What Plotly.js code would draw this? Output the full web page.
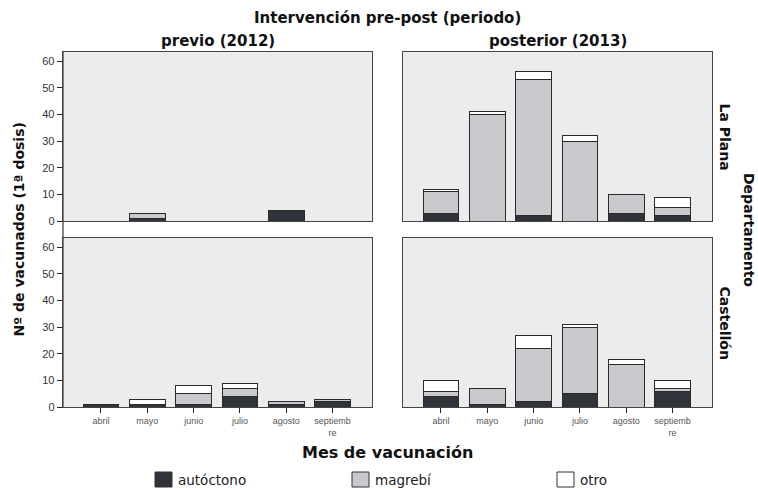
<!DOCTYPE html>
<html>
<head>
<meta charset="utf-8">
<script src="https://cdn.plot.ly/plotly-3.0.1.min.js"></script>
<style>html,body{margin:0;padding:0;background:#fff;}#chart{width:758px;height:488px;}</style>
</head>
<body>
<div id="chart"></div>
<script>
// ---- data ----
const months = ['abril','mayo','junio','julio','agosto','septiembre'];
const tickLabels = ['abril','mayo','junio','julio','agosto','septiemb<br>re'];
const seriesNames = ['autóctono','magrebí','otro'];
const periods = ['previo (2012)','posterior (2013)'];
const departments = ['La Plana','Castellón'];

const laPlana2012_aut  = [0,1,0,0,4,0];
const laPlana2012_mag  = [0,2,0,0,0,0];
const laPlana2012_otro = [0,0,0,0,0,0];
const laPlana2013_aut  = [3,0,2,0,3,2];
const laPlana2013_mag  = [8,40,51,30,7,3];
const laPlana2013_otro = [1,1,3,2,0,4];
const castellon2012_aut  = [1,1,1,4,1,2];
const castellon2012_mag  = [0,0,4,3,1,1];
const castellon2012_otro = [0,2,3,2,0,0];
const castellon2013_aut  = [4,1,2,5,0,6];
const castellon2013_mag  = [2,6,20,25,16,1];
const castellon2013_otro = [4,0,5,1,2,3];

const yTicks = [0,10,20,30,40,50,60];

// ---- build ----
const colors = ['#30343a','#c8c9cc','#ffffff'];
const panels = [
  {ax:'', vals:[laPlana2012_aut, laPlana2012_mag, laPlana2012_otro]},
  {ax:'2', vals:[laPlana2013_aut, laPlana2013_mag, laPlana2013_otro]},
  {ax:'3', vals:[castellon2012_aut, castellon2012_mag, castellon2012_otro]},
  {ax:'4', vals:[castellon2013_aut, castellon2013_mag, castellon2013_otro]}
];
const traces = [];
panels.forEach(p => {
  p.vals.forEach((v, i) => {
    traces.push({
      type:'bar', x: months, y: v, name: seriesNames[i],
      xaxis:'x'+p.ax, yaxis:'y'+p.ax, width:0.77,
      marker:{color:colors[i], line:{color:'#2a2a2a', width:1}},
      showlegend:false, hoverinfo:'x+y+name'
    });
  });
});

const L=63, R=712, T=52, B=407, W=R-L, H=B-T;
const px = v => (v-L)/W, py = v => (B-v)/H;
const xL = [0, px(372)], xR = [px(403), 1];
const yTop = [py(221), 1], yBot = [0, py(238)];
const xr = [-0.82, 5.85], yr = [0, 63.4];
const lineCol = '#444444';

function xa(domain, anchor, bottom){
  return {domain, anchor, range:xr, type:'category', categoryarray:months,
    showline:true, mirror:true, linecolor:lineCol, linewidth:1.3,
    showgrid:false, zeroline:false, fixedrange:true,
    ticks: bottom?'outside':'', ticklen:5, tickcolor:'#222', tickwidth:1,
    showticklabels: bottom, tickvals: months, ticktext: tickLabels,
    tickfont:{family:'Liberation Sans, Arial', size:9, color:'#555'}};
}
function ya(domain, anchor, left){
  return {domain, anchor, range:yr, showline:true, mirror:true, linecolor:lineCol, linewidth:1.3,
    showgrid:false, zeroline:false, fixedrange:true,
    ticks: left?'outside':'', ticklen:5, tickcolor:'#222', tickwidth:1,
    showticklabels:left, tickvals:yTicks,
    tickfont:{family:'Liberation Sans, Arial', size:11, color:'#333'}};
}

const bold = (s)=>({family:'DejaVu Sans', size:s, color:'#111', weight:'bold'});
const annotations = [
  {text:'<b>Intervención pre-post (periodo)</b>', xref:'paper', yref:'paper', x:0.5, y:py(18), showarrow:false, font:bold(15), xanchor:'center', yanchor:'middle'},
  {text:'<b>'+periods[0]+'</b>', xref:'paper', yref:'paper', x:(xL[0]+xL[1])/2, y:py(41), showarrow:false, font:bold(15), xanchor:'center', yanchor:'middle'},
  {text:'<b>'+periods[1]+'</b>', xref:'paper', yref:'paper', x:(xR[0]+xR[1])/2, y:py(41), showarrow:false, font:bold(15), xanchor:'center', yanchor:'middle'},
  {text:'<b>'+departments[0]+'</b>', xref:'paper', yref:'paper', x:px(725), y:(yTop[0]+yTop[1])/2, showarrow:false, font:bold(14), textangle:90, xanchor:'center', yanchor:'middle'},
  {text:'<b>'+departments[1]+'</b>', xref:'paper', yref:'paper', x:px(725), y:(yBot[0]+yBot[1])/2, showarrow:false, font:bold(14), textangle:90, xanchor:'center', yanchor:'middle'},
  {text:'<b>Departamento</b>', xref:'paper', yref:'paper', x:px(749), y:py(230), showarrow:false, font:bold(14), textangle:90, xanchor:'center', yanchor:'middle'},
  {text:'<b>Nº de vacunados (1ª dosis)</b>', xref:'paper', yref:'paper', x:px(18), y:0.5, showarrow:false, font:bold(14), textangle:-90, xanchor:'center', yanchor:'middle'},
  {text:'<b>Mes de vacunación</b>', xref:'paper', yref:'paper', x:0.5, y:py(452), showarrow:false, font:bold(16), xanchor:'center', yanchor:'middle'}
];
const shapes = [
  {type:'line', xref:'paper', yref:'paper', x0:0, x1:0, y0:0, y1:1, line:{color:lineCol, width:1.3}}
];
const legX = [155, 352, 557];
seriesNames.forEach((n,i)=>{
  shapes.push({type:'rect', xref:'paper', yref:'paper', x0:px(legX[i]), x1:px(legX[i]+17), y0:py(472), y1:py(487),
    fillcolor:colors[i], line:{color:'#333', width:1}});
  annotations.push({text:n, xref:'paper', yref:'paper', x:px(legX[i]+21), y:py(480), showarrow:false,
    xanchor:'left', yanchor:'middle', font:{family:'DejaVu Sans', size:13.5, color:'#222'}});
});

const layout = {
  width:758, height:488, margin:{l:L, r:758-R, t:T, b:488-B},
  paper_bgcolor:'#ffffff', plot_bgcolor:'#ebecec', barmode:'stack', bargap:0.23,
  showlegend:false,
  xaxis: xa(xL,'y',false), yaxis: ya(yTop,'x',true),
  xaxis2: xa(xR,'y2',false), yaxis2: ya(yTop,'x2',false),
  xaxis3: xa(xL,'y3',true), yaxis3: ya(yBot,'x3',true),
  xaxis4: xa(xR,'y4',true), yaxis4: ya(yBot,'x4',false),
  annotations, shapes
};
Plotly.newPlot('chart', traces, layout, {displayModeBar:false, staticPlot:true});
</script>
</body>
</html>
